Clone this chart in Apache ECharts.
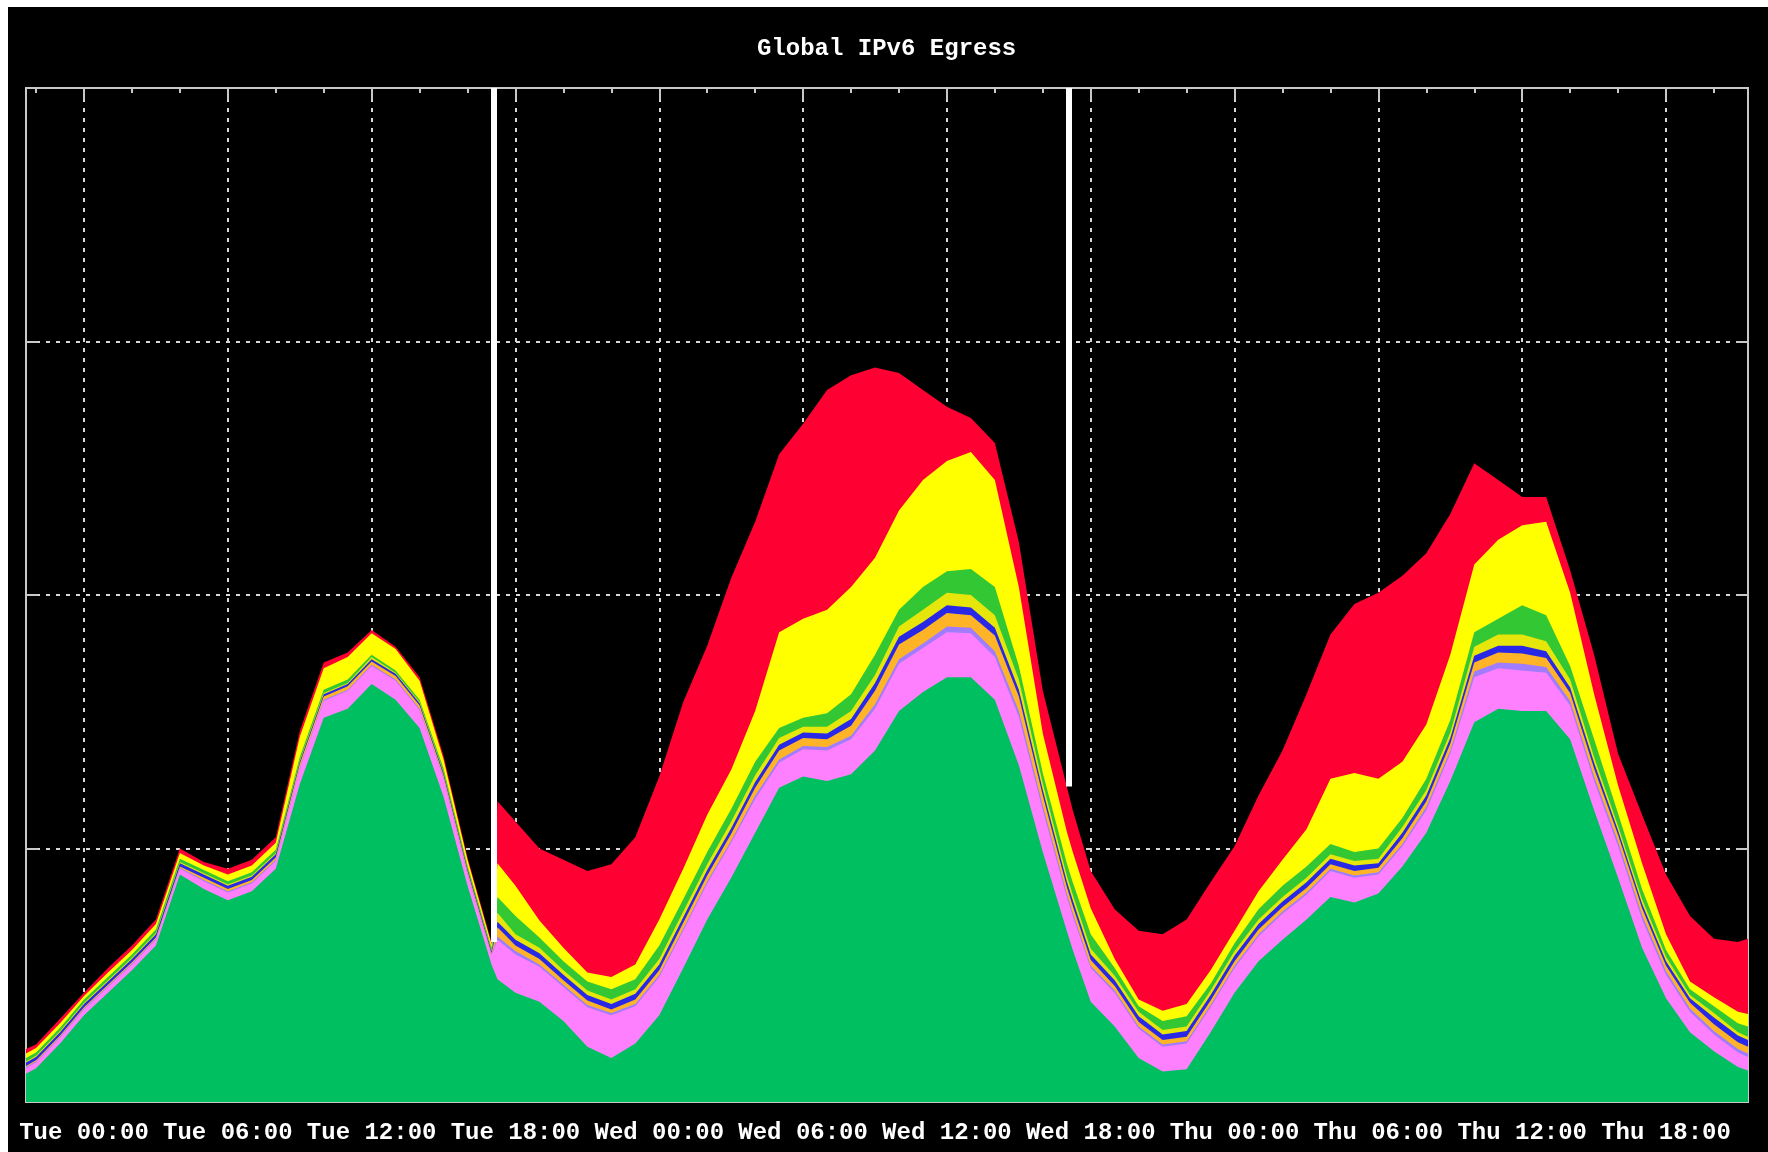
<!DOCTYPE html>
<html>
<head>
<meta charset="utf-8">
<title>Global IPv6 Egress</title>
<script src="https://cdn.jsdelivr.net/npm/echarts@6/dist/echarts.min.js"></script>
<style>
  html, body { margin: 0; padding: 0; background: #fff; }
  #chart { position: absolute; left: 8px; top: 7px; width: 1760px; height: 1145px; background: #000; }
</style>
</head>
<body>
<div id="chart"></div>
<script>
// sample times, hours relative to Tue 00:00
const hours = [-2.42, -2, -1, 0, 1, 2, 3, 4, 5, 6, 7, 8, 9, 10, 11, 12, 13, 14, 15, 16, 17, 17.25,
  18, 19, 20, 21, 22, 23, 24, 25, 26, 27, 28, 29, 30, 31, 32, 33, 34, 35, 36, 37, 38, 39, 40, 41, 41.25,
  42, 43, 44, 45, 46, 47, 48, 49, 50, 51, 52, 53, 54, 55, 56, 57, 58, 59, 60, 61, 62, 63, 64, 65, 66, 67, 68, 69, 69.42];

// top edge of each colour band (cumulative, arbitrary traffic units)
const greenTop = [25,30,52,77,97,117,139,202,189,179, 187,207,282,341,349,371,357,332,271,192,
  122,109,97,89,72,49,39,52,77,119, 162,199,239,279,289,285,291,312,347,364,
  377,377,357,299,222,152,135,89,67,39, 27,29,62,97,125,144,162,182,177,185,
  209,239,285,337,349,347,347,322,259,199, 137,92,62,45,31,28];
const pinkTop = [30,35,57,82,102,122,144,207,196,186, 194,214,296,356,365,387,374,348,287,202,
  130,144,131,120,102,84,77,85,111,152, 194,230,269,301,313,312,322,349,389,403,
  417,416,395,342,259,182,165,119,97,65, 49,52,84,119,147,167,184,205,199,202,
  227,259,309,377,385,383,381,352,285,227, 162,113,80,60,44,40];
const lavenderTop = [31,36,58,83,103,123,145,208,197,187, 195,215,297,357,366,388,375,349,288,203,
  131,147,134,122,104,86,79,87,113,154, 196,232,272,304,316,315,325,353,393,407,
  422,421,400,347,263,185,168,121,99,67, 51,54,86,121,149,169,186,207,201,204,
  229,262,312,382,390,389,386,356,289,231, 166,116,83,63,47,43];
const orangeTop = [32,37,59,84,104,124,146,209,199,189, 197,217,300,360,369,391,378,352,290,205,
  132,155,139,127,108,90,82,91,117,159, 201,238,279,312,323,322,334,365,406,419,
  434,432,414,360,272,191,174,126,103,71, 55,58,90,125,153,173,190,211,205,208,
  234,267,318,390,399,398,394,363,296,237, 172,121,88,69,53,49];
const blueTop = [35,40,62,87,107,127,149,212,202,192, 200,220,302,362,371,393,380,354,292,207,
  134,160,144,132,113,95,87,96,122,164, 206,243,284,317,328,327,340,372,413,426,
  441,439,421,366,277,196,179,131,108,76, 60,63,95,130,158,178,195,216,210,212,
  239,272,323,396,405,405,400,368,301,241, 176,125,92,75,59,55];
const paleTop = [36,41,63,88,108,128,150,213,203,193, 201,221,303,363,372,395,381,355,293,208,
  135,168,149,137,117,99,91,100,127,169, 211,249,290,323,333,333,347,379,422,437,
  452,450,432,375,283,201,184,136,112,80, 64,67,99,134,162,182,199,220,214,216,
  244,277,328,404,415,415,409,375,306,245, 180,129,95,79,62,58];
const limeTop = [39,44,66,91,111,131,153,216,206,196, 204,224,306,366,375,397,383,357,296,210,
  137,182,165,146,125,107,100,109,139,180, 222,260,302,332,341,345,362,397,437,457,
  471,473,457,387,292,212,195,149,119,85, 72,76,105,141,171,192,209,229,222,225,
  252,287,339,417,429,441,432,387,322,256, 189,135,100,85,70,67];
const yellowTop = [43,48,70,94,115,135,158,221,210,202, 210,230,324,385,395,416,402,374,304,215,
  140,212,192,161,137,115,111,122,162,207, 255,295,347,417,429,437,457,483,525,552,
  569,577,552,457,327,240,222,172,127,91, 81,87,117,152,187,215,242,287,292,287,
  302,335,397,477,499,512,515,452,362,281, 212,149,107,93,80,78];
const redTop = [47,51,74,97,119,139,162,225,213,207, 215,235,329,390,399,419,404,377,307,217,
  142,267,249,225,215,205,211,235,289,355, 405,465,515,575,602,632,645,652,647,632,
  617,607,585,497,365,280,259,205,171,152, 149,162,195,227,272,312,362,415,442,452,
  467,487,522,567,552,537,537,472,397,309, 255,202,165,145,142,145];

// white gap markers: hour and the stack level they start from
const gapHours = [17.1, 41.1];
const gapBase = [142, 280];

// axis ticks (hours from Tue 00:00)
const labelHours = [0, 6, 12, 18, 24, 30, 36, 42, 48, 54, 60, 66];
const minorHours = [-2, 0, 2, 4, 6, 8, 10, 12, 14, 16, 18, 20, 22, 24, 26, 28, 30, 32, 34, 36,
  38, 40, 42, 44, 46, 48, 50, 52, 54, 56, 58, 60, 62, 64, 66, 68];
const dayNames = ['Tue', 'Wed', 'Thu'];

const X_MIN = -2.42;
const X_MAX = 69.42;

function tickLabel(h) {
  const day = dayNames[Math.floor(h / 24)];
  const hh = String(Math.round(h - Math.floor(h / 24) * 24)).padStart(2, '0');
  return day + ' ' + hh + ':00';
}

const FONT = "'Liberation Mono', 'DejaVu Sans Mono', monospace";
const FRAME = '#c8c8c8';
const GRID_LINE = { show: true, lineStyle: { color: '#d8d8d8', width: 2, type: [4, 6] } };

// drawn back to front: each band is an area from zero up to its top edge
const layers = [
  { name: 'red', color: '#ff0033', tops: redTop },
  { name: 'yellow', color: '#ffff00', tops: yellowTop },
  { name: 'lime', color: '#33c833', tops: limeTop },
  { name: 'pale', color: '#e6e60a', tops: paleTop },
  { name: 'blue', color: '#2828e6', tops: blueTop },
  { name: 'orange', color: '#ffb428', tops: orangeTop },
  { name: 'lavender', color: '#a07cff', tops: lavenderTop },
  { name: 'pink', color: '#ff80ff', tops: pinkTop },
  { name: 'green', color: '#00bf60', tops: greenTop }
];

const series = layers.map(l => ({
  name: l.name,
  type: 'line',
  xAxisIndex: 0,
  yAxisIndex: 0,
  showSymbol: false,
  silent: true,
  lineStyle: { width: 0, opacity: 0 },
  areaStyle: { color: l.color, opacity: 1 },
  data: hours.map((h, i) => [h, l.tops[i]])
}));

// gap markers on top of everything
series[series.length - 1].markLine = {
  silent: true,
  symbol: 'none',
  label: { show: false },
  lineStyle: { color: '#ffffff', width: 6, type: 'solid', opacity: 1 },
  data: gapHours.map((h, i) => [
    { coord: [h, gapBase[i]] },
    { coord: [h, 900] }
  ])
};

const chart = echarts.init(document.getElementById('chart'));
chart.setOption({
  animation: false,
  backgroundColor: '#000',
  title: {
    text: 'Global IPv6 Egress',
    left: 744,
    top: 25,
    textStyle: { color: '#ffffff', fontFamily: FONT, fontWeight: 'bold', fontSize: 24 }
  },
  grid: {
    left: 18, right: 20, top: 81, bottom: 50,
    show: true, borderColor: FRAME, borderWidth: 2, backgroundColor: '#000'
  },
  xAxis: [{
    type: 'value',
    position: 'bottom',
    min: X_MIN,
    max: X_MAX,
    axisLine: { show: true, onZero: false, lineStyle: { color: FRAME, width: 2 } },
    axisTick: { show: false, customValues: labelHours },
    axisLabel: {
      show: true,
      customValues: labelHours,
      formatter: tickLabel,
      color: '#ffffff',
      fontFamily: FONT,
      fontWeight: 'bold',
      fontSize: 24,
      margin: 19,
      hideOverlap: false
    },
    splitLine: GRID_LINE
  }, {
    type: 'value',
    position: 'top',
    min: X_MIN,
    max: X_MAX,
    axisLine: { show: true, onZero: false, lineStyle: { color: FRAME, width: 2 } },
    axisTick: {
      show: true, inside: true, length: 12,
      customValues: labelHours,
      lineStyle: { color: FRAME, width: 2 }
    },
    axisLabel: { show: false },
    splitLine: { show: false }
  }, {
    type: 'value',
    position: 'top',
    min: X_MIN,
    max: X_MAX,
    axisLine: { show: false, onZero: false },
    axisTick: {
      show: true, inside: true, length: 5,
      customValues: minorHours,
      lineStyle: { color: FRAME, width: 2 }
    },
    axisLabel: { show: false },
    splitLine: { show: false }
  }],
  yAxis: [{
    type: 'value',
    position: 'left',
    min: 0,
    max: 900,
    interval: 225,
    axisLine: { show: true, onZero: false, lineStyle: { color: FRAME, width: 2 } },
    axisTick: { show: true, inside: true, length: 12, lineStyle: { color: FRAME, width: 2 } },
    axisLabel: { show: false },
    splitLine: GRID_LINE
  }, {
    type: 'value',
    position: 'right',
    min: 0,
    max: 900,
    interval: 225,
    axisLine: { show: true, onZero: false, lineStyle: { color: FRAME, width: 2 } },
    axisTick: { show: true, inside: true, length: 12, lineStyle: { color: FRAME, width: 2 } },
    axisLabel: { show: false },
    splitLine: { show: false }
  }],
  series: series
});
</script>
</body>
</html>
